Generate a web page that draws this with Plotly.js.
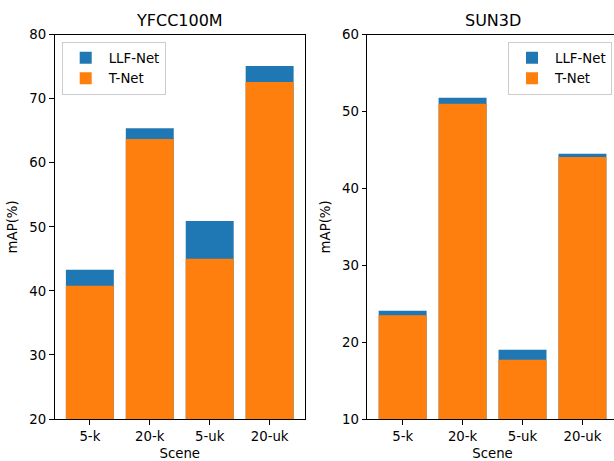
<!DOCTYPE html>
<html><head><meta charset="utf-8">
<script src="https://cdn.plot.ly/plotly-3.0.1.min.js"></script>
<style>html,body{margin:0;padding:0;overflow:hidden;background:#fff}</style>
</head><body>
<div id="chart"></div>
<script>
const scenes = ["5-k", "20-k", "5-uk", "20-uk"];
const yfccLLF = [43.3, 65.4, 50.9, 75.1];
const yfccTNet = [40.8, 63.7, 45.0, 72.6];
const sunLLF = [24.1, 51.8, 19.0, 44.5];
const sunTNet = [23.5, 51.0, 17.7, 44.1];

const blue = "#1f77b4", orange = "#ff7f0e";
const W = 620, H = 461;
const font = {family: "DejaVu Sans, sans-serif", size: 13.3, color: "#000"};
const noLine = {width: 0};

const traces = [
  {type: "bar", x: scenes, y: yfccLLF, name: "LLF-Net", marker: {color: blue, line: noLine}, xaxis: "x", yaxis: "y", legend: "legend"},
  {type: "bar", x: scenes, y: yfccTNet, name: "T-Net", marker: {color: orange, line: noLine}, xaxis: "x", yaxis: "y", legend: "legend"},
  {type: "bar", x: scenes, y: sunLLF, name: "LLF-Net", marker: {color: blue, line: noLine}, xaxis: "x2", yaxis: "y2", legend: "legend2"},
  {type: "bar", x: scenes, y: sunTNet, name: "T-Net", marker: {color: orange, line: noLine}, xaxis: "x2", yaxis: "y2", legend: "legend2"}
];

const axBase = {
  showgrid: false, zeroline: false, showline: true, linecolor: "#000", linewidth: 1,
  mirror: true, ticks: "outside", ticklen: 4.7, tickwidth: 1, tickcolor: "#000",
  tickfont: font, automargin: false
};
const yd = [1 - 419 / H, 1 - 34.7 / H];
const legBase = {xanchor: "left", yanchor: "top",
  bgcolor: "rgba(255,255,255,0.8)", bordercolor: "#cccccc", borderwidth: 1,
  font: font, traceorder: "normal", tracegroupgap: 0, itemwidth: 36};
const layout = {
  width: W, height: H,
  margin: {l: 0, r: 0, t: 0, b: 0},
  paper_bgcolor: "#fff", plot_bgcolor: "#fff",
  font: font,
  barmode: "overlay",
  bargap: 0.2,
  xaxis: Object.assign({}, axBase, {domain: [54.5 / W, 305 / W], range: [-0.59, 3.59], anchor: "y",
    title: {text: "Scene", font: font, standoff: 6}}),
  yaxis: Object.assign({}, axBase, {domain: yd, range: [20, 80], dtick: 10, anchor: "x",
    title: {text: "mAP(%)", font: font, standoff: 8}}),
  xaxis2: Object.assign({}, axBase, {domain: [367.3 / W, 617.8 / W], range: [-0.59, 3.59], anchor: "y2",
    title: {text: "Scene", font: font, standoff: 6}}),
  yaxis2: Object.assign({}, axBase, {domain: yd, range: [10, 60], dtick: 10, anchor: "x2",
    title: {text: "mAP(%)", font: font, standoff: 8}}),
  legend: Object.assign({}, legBase, {x: 61.7 / W, y: 1 - 41.7 / H}),
  legend2: Object.assign({}, legBase, {x: 508 / W, y: 1 - 41.7 / H}),
  annotations: [
    {text: "YFCC100M", xref: "paper", yref: "paper", x: (54.5 + 305) / 2 / W, y: 1 - 20.7 / H,
      xanchor: "center", yanchor: "middle", showarrow: false, font: {family: font.family, size: 16, color: "#000"}},
    {text: "SUN3D", xref: "paper", yref: "paper", x: (367.3 + 617.8) / 2 / W, y: 1 - 20.7 / H,
      xanchor: "center", yanchor: "middle", showarrow: false, font: {family: font.family, size: 16, color: "#000"}}
  ]
};

Plotly.newPlot("chart", traces, layout, {displayModeBar: false, staticPlot: true});
</script>
</body></html>
